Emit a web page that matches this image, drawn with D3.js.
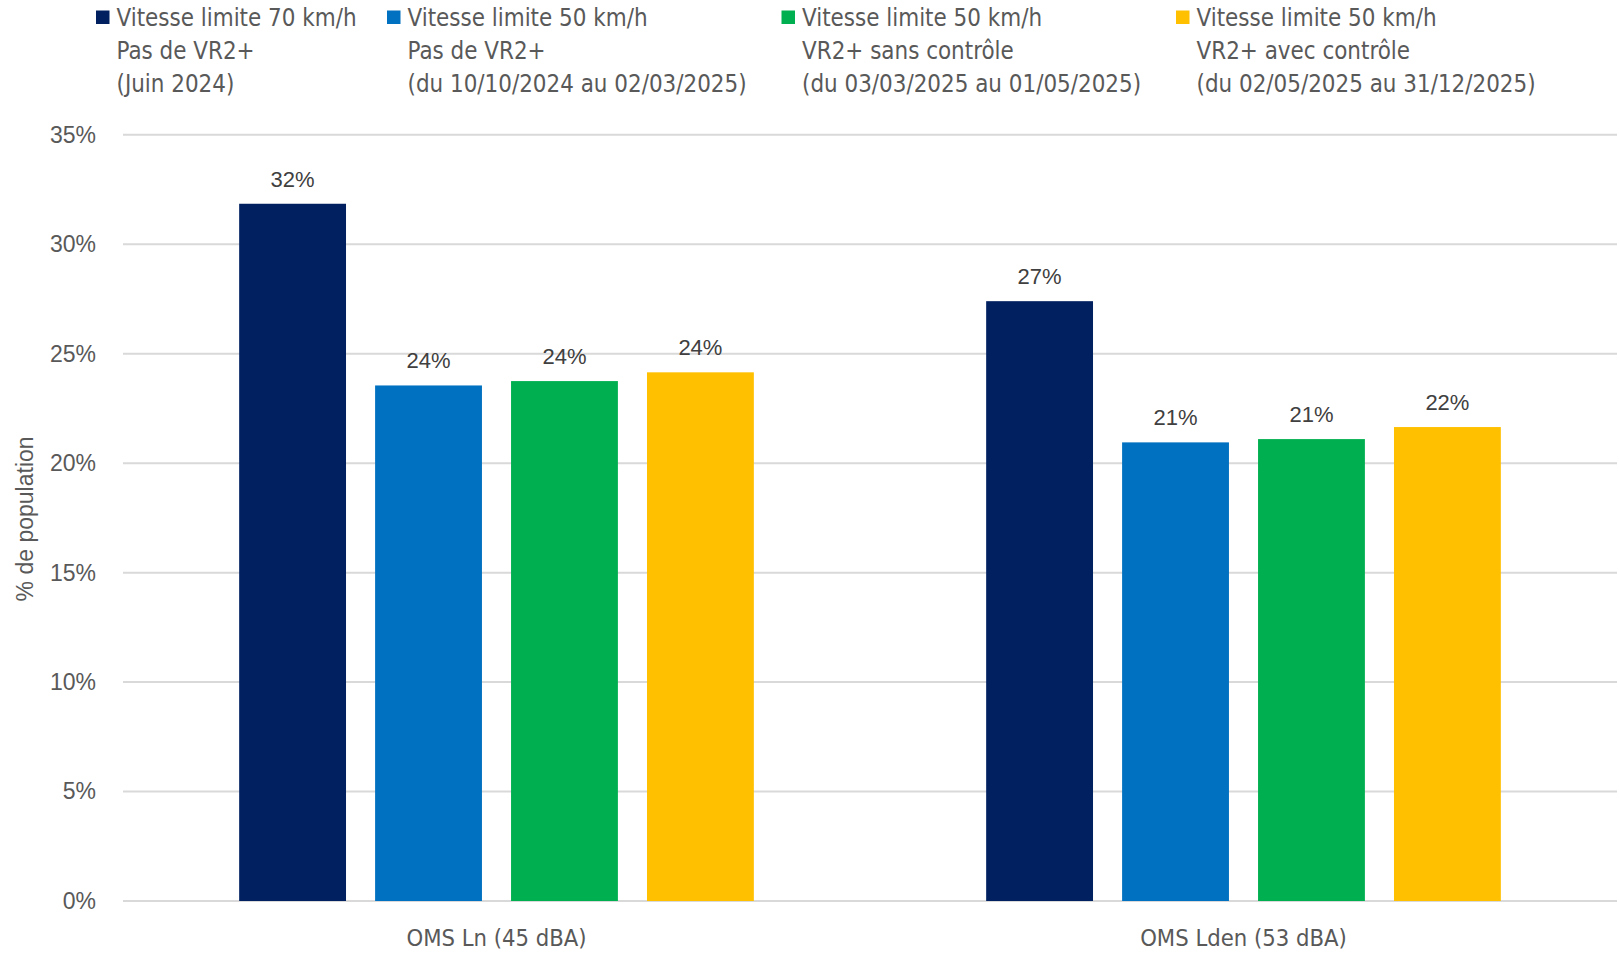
<!DOCTYPE html>
<html lang="fr">
<head>
<meta charset="utf-8">
<title>Part de la population exposée au-delà des seuils OMS</title>
<script src="https://cdn.jsdelivr.net/npm/d3@7"></script>
<style>
  html, body { margin: 0; padding: 0; background: #ffffff; }
  svg { display: block; }
</style>
</head>
<body>
<div id="chart"></div>
<script>
// Indicateurs OMS (catégories de l'axe horizontal)
const categories = ["OMS Ln (45 dBA)", "OMS Lden (53 dBA)"];

// Périodes comparées (séries), libellés de légende sur trois lignes
const seriesKeys = ["v70", "v50", "vr2Sans", "vr2Avec"];
const seriesLabels = [
  ["Vitesse limite 70 km/h", "Pas de VR2+", "(Juin 2024)"],
  ["Vitesse limite 50 km/h", "Pas de VR2+", "(du 10/10/2024 au 02/03/2025)"],
  ["Vitesse limite 50 km/h", "VR2+ sans contrôle", "(du 03/03/2025 au 01/05/2025)"],
  ["Vitesse limite 50 km/h", "VR2+ avec contrôle", "(du 02/05/2025 au 31/12/2025)"]
];
const seriesColors = ["#002060", "#0070C0", "#00B050", "#FFC000"];

// Part de la population exposée (fraction), une valeur par catégorie
const v70 = [0.3185, 0.2740];
const v50 = [0.2355, 0.2095];
const vr2Sans = [0.2375, 0.2110];
const vr2Avec = [0.2415, 0.2165];
const seriesValues = [v70, v50, vr2Sans, vr2Avec];

// Graduations de l'axe vertical
const yTicks = [0, 0.05, 0.10, 0.15, 0.20, 0.25, 0.30, 0.35];
const yTitle = "% de population";

const W = 1619, H = 954;
const plot = { left: 123, right: 1617, top: 134.8, bottom: 901 };

const svg = d3.select("#chart").append("svg")
  .attr("width", W).attr("height", H)
  .attr("viewBox", [0, 0, W, H]);

const y = d3.scaleLinear().domain([0, 0.35]).range([plot.bottom, plot.top]);
const x0 = d3.scaleBand().domain(categories)
  .range([plot.left, plot.right]).paddingInner(0.311).paddingOuter(0.1555);
const x1 = d3.scaleBand().domain(seriesKeys)
  .range([0, x0.bandwidth()]).paddingInner(0.214).paddingOuter(0);

const pct = d3.format(".0%");
const axisFont = "'Liberation Sans', Arial, sans-serif";
const labelFont = "'DejaVu Sans Condensed', 'DejaVu Sans', sans-serif";

// Quadrillage horizontal
svg.append("g")
  .selectAll("line").data(yTicks).join("line")
  .attr("x1", plot.left).attr("x2", plot.right)
  .attr("y1", d => y(d)).attr("y2", d => y(d))
  .attr("stroke", "#D9D9D9").attr("stroke-width", 2);

// Axe vertical (graduations en pourcentage)
const yAxis = svg.append("g")
  .attr("transform", `translate(${plot.left - 27},0)`)
  .call(d3.axisLeft(y).tickValues(yTicks).tickFormat(pct).tickSize(0).tickPadding(0));
yAxis.select(".domain").remove();
yAxis.selectAll("text")
  .attr("font-family", axisFont).attr("font-size", 23).attr("fill", "#595959");

// Titre de l'axe vertical
svg.append("text")
  .attr("transform", `translate(33,${(plot.top + plot.bottom) / 2 + 1}) rotate(-90)`)
  .attr("text-anchor", "middle")
  .attr("font-family", axisFont).attr("font-size", 23).attr("fill", "#595959")
  .text(yTitle);

// Barres groupées
const rows = categories.map((c, i) => ({
  category: c,
  bars: seriesKeys.map((k, j) => ({ key: k, value: seriesValues[j][i], color: seriesColors[j] }))
}));

const groups = svg.append("g").selectAll("g").data(rows).join("g")
  .attr("transform", d => `translate(${x0(d.category)},0)`);

groups.selectAll("rect").data(d => d.bars).join("rect")
  .attr("x", d => x1(d.key))
  .attr("width", x1.bandwidth())
  .attr("y", d => y(d.value))
  .attr("height", d => y(0) - y(d.value))
  .attr("fill", d => d.color);

// Étiquettes de valeurs
groups.selectAll("text").data(d => d.bars).join("text")
  .attr("x", d => x1(d.key) + x1.bandwidth() / 2)
  .attr("y", d => y(d.value) - 17)
  .attr("text-anchor", "middle")
  .attr("font-family", axisFont).attr("font-size", 22).attr("fill", "#404040")
  .text(d => pct(d.value));

// Libellés des catégories
svg.append("g").selectAll("text").data(categories).join("text")
  .attr("x", d => x0(d) + x0.bandwidth() / 2)
  .attr("y", 946)
  .attr("text-anchor", "middle")
  .attr("font-family", labelFont).attr("font-size", 23.6).attr("fill", "#595959")
  .text(d => d);

// Légende
const legendX = [96, 387, 781.5, 1176];
const legend = svg.append("g").selectAll("g").data(seriesKeys).join("g")
  .attr("transform", (d, i) => `translate(${legendX[i]},0)`);

legend.append("rect")
  .attr("x", 0).attr("y", 10.5).attr("width", 13.5).attr("height", 13.5)
  .attr("fill", (d, i) => seriesColors[i]);

legend.append("text")
  .attr("font-family", labelFont).attr("font-size", 23.9).attr("fill", "#595959")
  .selectAll("tspan").data((d, i) => seriesLabels[i]).join("tspan")
  .attr("x", 20.5)
  .attr("y", (d, k) => 26 + k * 33)
  .text(d => d);
</script>
</body>
</html>
